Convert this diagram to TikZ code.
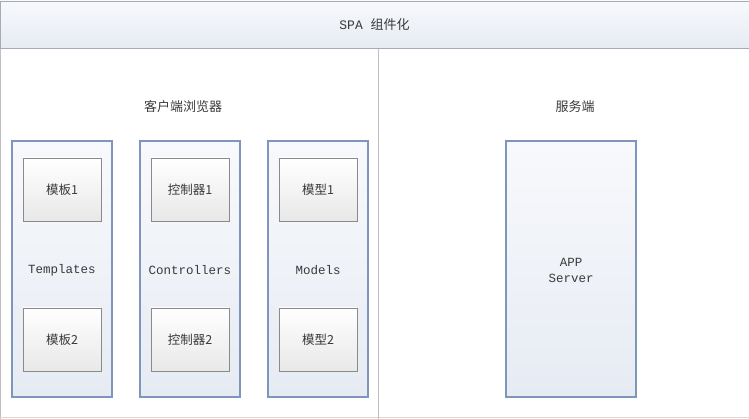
\documentclass[tikz,border=0pt]{standalone}
\usepackage{fontspec}
\setmonofont{Liberation Mono}
\newfontfamily\cjk{Noto Sans CJK SC}
\usetikzlibrary{shadows}
\definecolor{txt}{HTML}{3A3A3A}
\definecolor{colborder}{HTML}{7E96BC}
\definecolor{innerborder}{HTML}{8A8A8A}
\definecolor{barborder}{HTML}{A4ACBA}
\definecolor{divider}{HTML}{C0C0C0}
\definecolor{coltop}{HTML}{F8F9FC}
\definecolor{colbot}{HTML}{E6EBF3}
\tikzset{
  colbox/.style={draw=colborder, line width=1.2pt, top color=coltop, bottom color=colbot, minimum width=100pt, minimum height=256pt, inner sep=0pt},
  innerbox/.style={draw=innerborder, line width=0.8pt, top color=white, bottom color=black!9, minimum width=78pt, minimum height=63pt, inner sep=0pt, drop shadow={shadow xshift=1pt, shadow yshift=-1pt, opacity=0.2}, font=\cjk\fontsize{12.5}{14}\selectfont, text=txt},
  lbl/.style={font=\ttfamily\fontsize{12.5}{15}\selectfont, text=txt, inner sep=0pt},
  clbl/.style={font=\cjk\fontsize{13}{15}\selectfont, text=txt, inner sep=0pt},
  bar/.style={draw=barborder, line width=0.8pt, top color=coltop, bottom color=colbot, minimum width=749pt, minimum height=47pt, inner sep=0pt}
}
\begin{document}
\begin{tikzpicture}[x=1pt,y=-1pt]
\useasboundingbox (0,0) rectangle (749,419);
\fill[white] (0,0) rectangle (749,419);
% frame lines
\draw[divider, line width=1.2pt] (0.8,48) -- (0.8,419);
\draw[divider!60, line width=0.8pt] (0,417.5) -- (749,417.5);
\draw[divider, line width=1.5pt] (378.5,48) -- (378.5,419);
% top bar
\node[bar] (top) at (374.5,24.5) {};
\node[font=\fontsize{13}{15}\selectfont, text=txt] (title) at (374.5,25) {\ttfamily SPA {\cjk 组件化}};
% section labels
\node[clbl] (client) at (183,107) {客户端浏览器};
\node[clbl] (server) at (575,107) {服务端};
% columns
\node[colbox] (tcol) at (62,269) {};
\node[colbox] (ccol) at (190,269) {};
\node[colbox] (mcol) at (318,269) {};
\node[colbox, minimum width=130pt] (app) at (571,269) {};
% inner boxes
\node[innerbox] (t1) at (62,189.5) {模板1};
\node[innerbox] (t2) at (62,339.5) {模板2};
\node[innerbox] (c1) at (190,189.5) {控制器1};
\node[innerbox] (c2) at (190,339.5) {控制器2};
\node[innerbox] (m1) at (318,189.5) {模型1};
\node[innerbox] (m2) at (318,339.5) {模型2};
% column labels
\node[lbl] (tl) at (62,270) {Templates};
\node[lbl] (cl) at (190,270) {Controllers};
\node[lbl] (ml) at (318,270) {Models};
\node[lbl, align=center, font=\ttfamily\fontsize{12.5}{16}\selectfont] (al) at (571,270) {APP\\Server};
\end{tikzpicture}
\end{document}
